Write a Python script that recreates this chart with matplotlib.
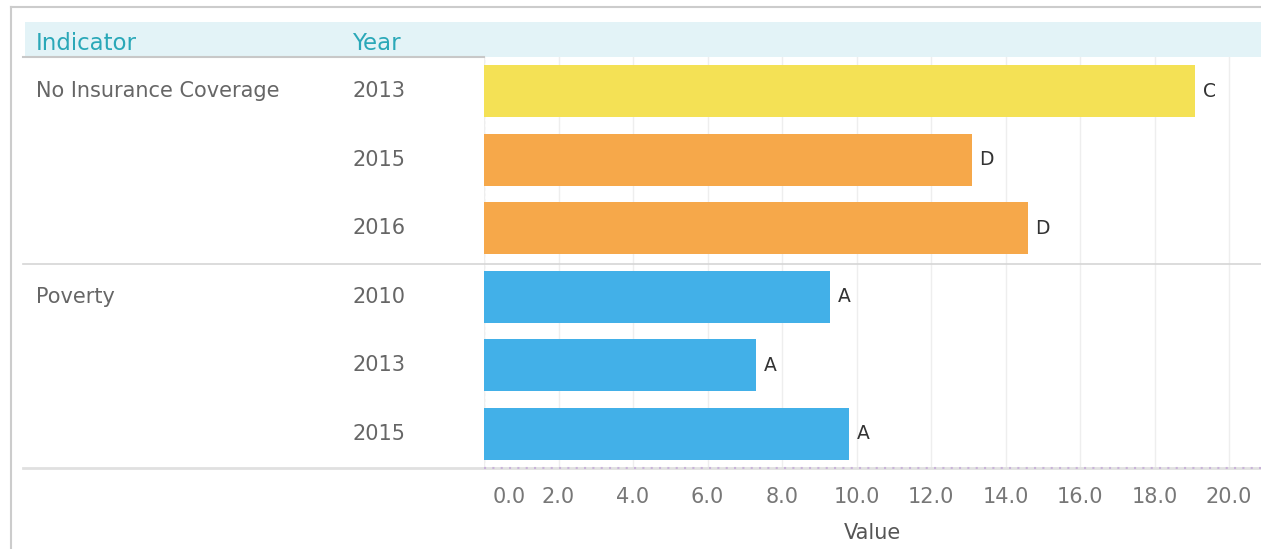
import matplotlib.pyplot as plt
import matplotlib.transforms as mtransforms
from matplotlib.patches import Rectangle
from matplotlib.lines import Line2D

indicators = ["No Insurance Coverage", "Poverty"]
years = ["2013", "2015", "2016", "2010", "2013", "2015"]
row_indicator = ["No Insurance Coverage", "", "", "Poverty", "", ""]
values = [19.1, 13.1, 14.6, 9.3, 7.3, 9.8]
grades = ["C", "D", "D", "A", "A", "A"]
grade_colors = {"A": "#42b0e8", "C": "#f4e155", "D": "#f6a84a"}
xticks = [0, 2, 4, 6, 8, 10, 12, 14, 16, 18, 20]

W, H = 1261, 549
fig = plt.figure(figsize=(W / 100, H / 100), dpi=100)

def fx(px):
    return px / W

def fy(py):
    return 1 - py / H

# outer frame (top and left edge)
fig.add_artist(Line2D([fx(11), 1], [fy(7), fy(7)], color="#cccccc", lw=1.5))
fig.add_artist(Line2D([fx(11), fx(11)], [fy(7), 0], color="#cccccc", lw=1.5))

# header band
fig.add_artist(Rectangle((fx(25), fy(57)), 1 - fx(25), fy(22) - fy(57),
                         facecolor="#e3f3f7", edgecolor="none", zorder=0))
fig.text(fx(36), fy(43), "Indicator", color="#2aa8b8", fontsize=16.5, va="center")
fig.text(fx(352), fy(43), "Year", color="#2aa8b8", fontsize=16.5, va="center")

ax = fig.add_axes([fx(484), fy(468), 1 - fx(484), fy(57) - fy(468)])
n = len(values)
ypos = list(range(n))
colors = [grade_colors[g] for g in grades]
ax.barh(ypos, values, height=0.76, color=colors, zorder=2)
for y, v, g in zip(ypos, values, grades):
    ax.text(v + 0.2, y, g, va="center", ha="left", fontsize=13.5, color="#333333")

ax.set_ylim(n - 0.5, -0.5)
ax.set_xlim(0, (W - 484) / 37.25)
ax.set_xticks(xticks)
ax.set_xticklabels(["%.1f" % t for t in xticks], color="#777777", fontsize=15)
ax.tick_params(axis="x", length=0, pad=14)
lab0 = ax.get_xticklabels()[0]
lab0.set_transform(lab0.get_transform() + mtransforms.ScaledTranslation(0.25, 0, fig.dpi_scale_trans))
ax.set_yticks([])
for s in ax.spines.values():
    s.set_visible(False)
ax.grid(axis="x", color="#eeeeee", lw=1, zorder=0)
ax.axvline(0, color="#dddddd", lw=1, ls=(0, (2, 2)), zorder=1)
ax.set_xlabel("Value", color="#555555", fontsize=15)
ax.xaxis.set_label_coords(fx(872), fy(533), transform=fig.transFigure)
ax.xaxis.label.set_va("center")

# row labels on the left
tr = mtransforms.blended_transform_factory(fig.transFigure, ax.transData)
for y, ind, yr in zip(ypos, row_indicator, years):
    if ind:
        ax.text(fx(36), y, ind, transform=tr, va="center", ha="left",
                fontsize=15, color="#666666", clip_on=False)
    ax.text(fx(352), y, yr, transform=tr, va="center", ha="left",
            fontsize=15, color="#666666", clip_on=False)

# separators
fig.add_artist(Line2D([fx(23), fx(484)], [fy(57), fy(57)], color="#c8c8c8", lw=1.5))
fig.add_artist(Line2D([fx(23), 1], [fy(264), fy(264)], color="#d5d5d5", lw=1.2))
fig.add_artist(Line2D([fx(23), 1], [fy(468), fy(468)], color="#e0e0e0", lw=2))
fig.add_artist(Line2D([fx(484), 1], [fy(468), fy(468)], color="#c9b3d9", lw=1.5,
                      ls=(0, (1, 3))))

fig.savefig("out.png", dpi=100)
